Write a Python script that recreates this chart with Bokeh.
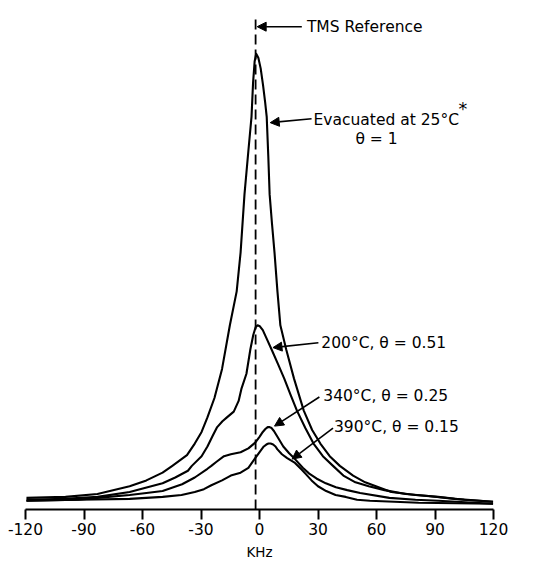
from bokeh.plotting import figure
from bokeh.models import Arrow, NormalHead, Label, FixedTicker, Range1d
from bokeh.embed import file_html
from bokeh.resources import INLINE

# ---- data (frequency in kHz, intensity in arbitrary units) ----
tick_values = [-120, -90, -60, -30, 0, 30, 60, 90, 120]
tick_labels = ["-120", "-90", "-60", "-30", "0", "30", "60", "90", "120"]

tms_ref = -2.0

evac_khz = [-119.5, -99.5, -83.1, -66.6, -58.0, -49.7, -44.7, -37.2, -33.2, -29.7, -26.7, -23.1,
            -19.2, -15.2, -11.7, -9.7, -7.7, -5.7, -4.1, -3.3, -2.5, -1.7, -0.6, 0.6, 1.8,
            2.9, 3.7, 4.5, 5.2, 6.4, 7.7, 9.2, 10.7, 13.7, 17.7, 22.7, 27.0, 31.2, 36.0,
            41.2, 48.0, 54.2, 67.6, 80.0, 91.6, 105.0, 119.8]
evac_int = [12, 13, 16, 24, 30, 38, 45, 56, 68, 80, 95, 115,
            145, 190, 225, 265, 325, 370, 405, 440, 462, 470, 466, 455, 438,
            420, 405, 365, 325, 295, 265, 225, 190, 165, 135, 102, 82, 68, 55,
            45, 35, 28, 18, 15, 13, 10, 8]

t200_khz = [-119.5, -100.0, -83.1, -66.6, -49.7, -43.2, -36.7, -34.7, -29.7, -26.7, -24.0, -21.7,
            -19.0, -16.7, -13.2, -10.7, -9.2, -6.7, -4.7, -3.2, -2.0, -1.0, 0.2, 1.7, 3.5,
            6.2, 9.5, 12.7, 16.0, 19.2, 23.5, 27.7, 32.5, 37.7, 43.0, 49.2, 56.0, 64.1,
            75.0, 86.6, 100.0, 119.8]
t200_int = [10, 11, 13, 18, 27, 33, 40, 45, 55, 65, 76, 85,
            91, 95, 101, 112, 125, 140, 165, 180, 188, 190, 189, 185, 177,
            165, 150, 135, 118, 102, 84, 68, 55, 45, 35, 28, 24, 20,
            16, 14, 11, 8]

t340_khz = [-119.5, -93.1, -83.1, -66.6, -58.0, -49.7, -39.7, -33.2, -26.7, -24.7, -22.2, -18.2,
            -14.7, -9.7, -5.7, -2.2, 0.0, 1.7, 3.0, 4.2, 5.2, 6.2, 7.4, 9.2, 12.2, 15.2, 18.2,
            22.2, 25.5, 29.2, 34.0, 39.2, 45.0, 51.6, 66.6, 80.0, 91.6, 119.8]
t340_int = [9, 10, 12, 15, 17, 19, 26, 33, 42, 45, 49, 55,
            57, 59, 63, 69, 75, 80, 83, 85, 85, 84, 81, 75, 65, 58, 52,
            43, 37, 32, 27, 23, 20, 17, 12, 10, 9, 6]

t390_khz = [-119.5, -93.1, -66.6, -49.7, -40.0, -33.2, -28.5, -24.7, -19.2, -14.7, -9.7, -5.7,
            -2.2, 0.7, 2.2, 3.5, 4.6, 5.7, 7.0, 8.2, 9.2, 11.5, 14.2, 18.2, 21.7, 24.0, 26.7,
            30.0, 34.2, 39.0, 44.2, 50.0, 56.6, 81.6, 119.8]
t390_int = [9, 10, 11, 13, 15, 18, 21, 25, 30, 35, 38, 43,
            53, 61, 65, 67, 68, 68, 67, 65, 62, 57, 53, 48, 41, 36, 30,
            24, 19, 15, 13, 10, 9, 7, 6]

FONT = "DejaVu Sans"
TXT = "15.5px"

p = figure(width=537, height=562,
           x_range=Range1d(-120, 120), y_range=Range1d(0, 525),
           output_backend="svg", toolbar_location=None,
           y_axis_location=None,
           min_border_left=25, min_border_right=44,
           min_border_top=0, min_border_bottom=52)

p.xgrid.visible = False
p.ygrid.visible = False
p.outline_line_color = None
p.background_fill_color = "white"
p.border_fill_color = "white"

ax = p.xaxis[0]
ax.ticker = FixedTicker(ticks=tick_values)
ax.major_label_overrides = {v: s for v, s in zip(tick_values, tick_labels)}
ax.major_tick_in = 0
ax.major_tick_out = 10
ax.minor_tick_in = 0
ax.minor_tick_out = 0
ax.axis_line_width = 2
ax.major_tick_line_width = 2
ax.axis_line_color = "black"
ax.major_tick_line_color = "black"
ax.major_label_text_font = FONT
ax.major_label_text_font_size = TXT
ax.major_label_text_color = "black"
ax.major_label_standoff = 3
ax.axis_label = "KHz"
ax.axis_label_text_font = FONT
ax.axis_label_text_font_size = "13.5px"
ax.axis_label_text_font_style = "normal"
ax.axis_label_text_color = "black"
ax.axis_label_standoff = 6

for xs, ys in [(evac_khz, evac_int), (t200_khz, t200_int), (t340_khz, t340_int), (t390_khz, t390_int)]:
    p.line(xs, ys, line_color="black", line_width=2.1, line_join="round")

p.segment(x0=[tms_ref], y0=[0], x1=[tms_ref], y1=[510],
          line_color="black", line_width=1.8, line_dash="10 5")

def label(x, y, text, size=TXT):
    p.add_layout(Label(x=x, y=y, text=text, text_font=FONT, text_font_size=size,
                       text_color="black", text_baseline="middle", text_align="left"))

def arrow(x0, y0, x1, y1):
    p.add_layout(Arrow(end=NormalHead(size=9, fill_color="black", line_color="black", line_width=1),
                       x_start=x0, y_start=y0, x_end=x1, y_end=y1,
                       line_color="black", line_width=1.6))

label(24.3, 498, "TMS Reference")
arrow(21.7, 498, -1.2, 498)

label(27.7, 402, "Evacuated at 25°C")
label(102.0, 413, "*", size="17.5px")
label(49.2, 382, "θ = 1")
arrow(26.7, 403, 5.5, 399)

label(31.7, 172, "200°C, θ = 0.51")
arrow(30.2, 172, 6.9, 167)

label(32.7, 117, "340°C, θ = 0.25")
arrow(30.7, 116, 7.7, 86)

label(38.2, 85, "390°C, θ = 0.15")
arrow(37.7, 84, 16.7, 52)

open("out.html", "w").write(file_html(p, INLINE))
